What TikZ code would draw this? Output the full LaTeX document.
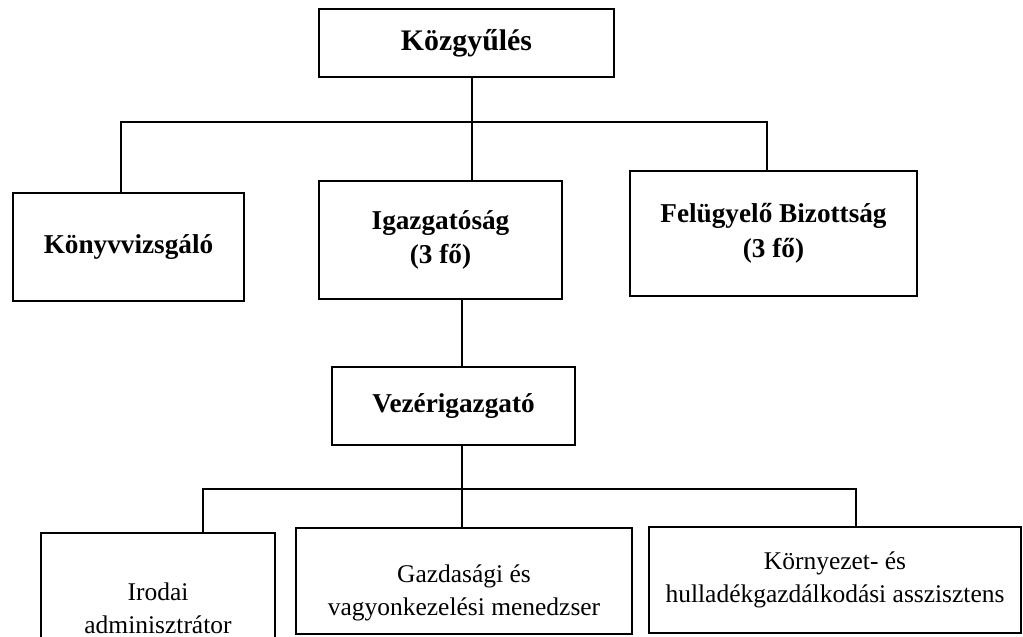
\documentclass[tikz,border=0pt]{standalone}
\usepackage{fontspec}
\setmainfont{Liberation Serif}

\begin{document}
\begin{tikzpicture}[x=0.02cm,y=-0.02cm,line width=1pt,
  bossbox/.style={draw,align=center,inner sep=0pt,font=\bfseries\fontsize{15.5}{19.8}\selectfont},
  staffbox/.style={draw,align=center,inner sep=0pt,font=\fontsize{14.5}{18.7}\selectfont}]
\useasboundingbox (0,0) rectangle (1023,636);
\clip (0,0) rectangle (1023,636);
% boxes, first three levels
\node[bossbox,minimum width=5.9cm,minimum height=1.36cm,font=\bfseries\fontsize{17}{20}\selectfont] (kozgy) at (466.5,43) {Közgyűlés};
\node[bossbox,minimum width=4.62cm,minimum height=2.16cm] (konyv) at (128.5,247) {Könyvvizsgáló};
\node[bossbox,minimum width=4.86cm,minimum height=2.36cm] (igazg) at (440.5,240) {Igazgatóság\\(3 fő)};
\node[bossbox,minimum width=5.74cm,minimum height=2.5cm] (felug) at (773.5,233.5) {Felügyelő Bizottság\\(3 fő)};
\node[bossbox,minimum width=4.86cm,minimum height=1.56cm] (vezer) at (453.5,406) {Vezérigazgató};
% boxes, staff
\node[staffbox,minimum width=4.68cm,minimum height=3cm] (iroda) at (158,608) {Irodai\\adminisztrátor};
\node[staffbox,minimum width=6.72cm,minimum height=2.12cm] (gazd) at (464,581) {};
\node[staffbox,draw=none] (gazdtext) at ([yshift=-0.24cm]gazd.center) {Gazdasági és\\vagyonkezelési menedzser};
\node[staffbox,minimum width=7.44cm,minimum height=2.12cm] (korny) at (835,580) {Környezet- és\\hulladékgazdálkodási asszisztens};
% connectors
\coordinate (busA) at (472,122);
\coordinate (busAl) at (121,122);
\coordinate (busAr) at (767,122);
\draw (kozgy.south -| busA) -- (busA) -- (busA |- igazg.north);
\draw (busAl |- konyv.north) -- (busAl) -- (busAr) -- (busAr |- felug.north);
\coordinate (busB) at (462,489);
\coordinate (busBl) at (203,489);
\coordinate (busBr) at (856,489);
\draw (busB |- igazg.south) -- (busB |- vezer.north);
\draw (busB |- vezer.south) -- (busB) -- (busB |- gazd.north);
\draw (busBl |- iroda.north) -- (busBl) -- (busBr) -- (busBr |- korny.north);
\end{tikzpicture}
\end{document}
